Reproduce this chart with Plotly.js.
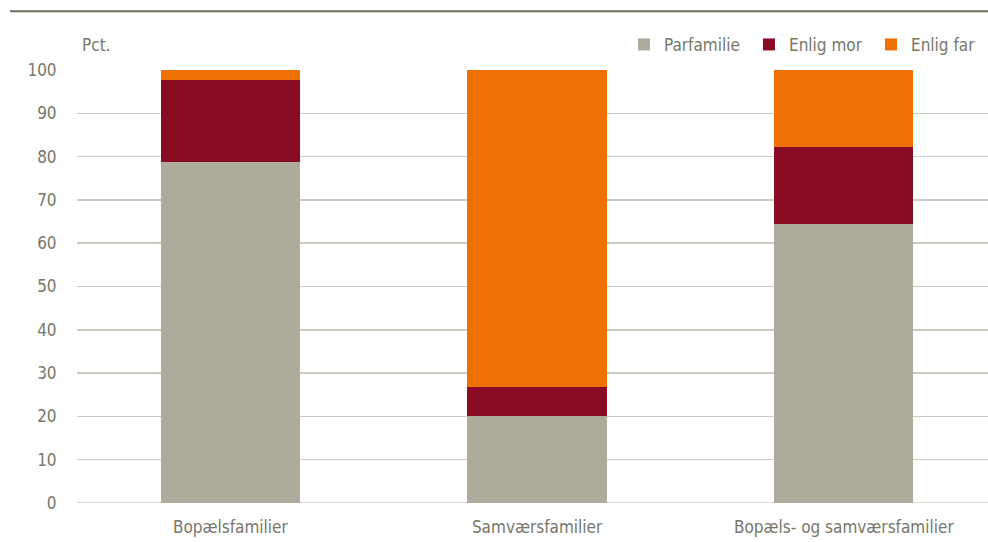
<!DOCTYPE html>
<html>
<head>
<meta charset="utf-8">
<script src="https://cdn.plot.ly/plotly-3.0.1.min.js"></script>
<style>html,body{margin:0;padding:0;background:#fff;}#chart{width:988px;height:542px;}</style>
</head>
<body>
<div id="chart"></div>
<script>
const categories = ["Bopælsfamilier", "Samværsfamilier", "Bopæls- og samværsfamilier"];
const parfamilie = [78.8, 20.0, 64.5];
const enligMor = [18.9, 6.9, 17.7];
const enligFar = [2.3, 73.1, 17.8];
const seriesNames = ["Parfamilie", "Enlig mor", "Enlig far"];
const seriesColors = ["#ADAB9C", "#8A0C24", "#EE7203"];
const yTicks = [0, 10, 20, 30, 40, 50, 60, 70, 80, 90, 100];

const FONT = "'Liberation Sans Narrow', 'Arial Narrow', 'DejaVu Sans Condensed', sans-serif";
const TXT = "#76766A";
const FS = 17;
const legendWidths = [80, 77, 66];

const data = [parfamilie, enligMor, enligFar].map((vals, i) => ({
  type: "bar",
  x: categories,
  y: vals,
  name: seriesNames[i],
  marker: {color: seriesColors[i], line: {width: 0}},
  width: 0.454,
  legendwidth: legendWidths[i],
  hoverinfo: "skip"
}));

const layout = {
  width: 988, height: 542,
  margin: {l: 77, r: 0, t: 70, b: 39, pad: 0},
  paper_bgcolor: "#fff", plot_bgcolor: "#fff",
  barmode: "stack",
  font: {family: FONT, size: FS, color: TXT},
  xaxis: {
    type: "category",
    range: [-0.5, 2.47],
    showgrid: false, zeroline: false, showline: false,
    ticks: "outside", ticklen: 9, tickcolor: "rgba(0,0,0,0)",
    tickfont: {family: FONT, size: FS, color: TXT}
  },
  yaxis: {
    range: [0, 100],
    tickvals: yTicks,
    ticktext: yTicks.map(String),
    showgrid: true, gridcolor: "#CBCBC0", gridwidth: 1.5,
    zeroline: false, showline: false,
    ticks: "outside", ticklen: 16, tickcolor: "rgba(0,0,0,0)",
    tickfont: {family: FONT, size: FS, color: TXT}
  },
  showlegend: true,
  legend: {
    orientation: "h",
    x: 0.6004, xanchor: "left",
    y: 1.058, yanchor: "middle",
    font: {family: FONT, size: FS, color: TXT},
    itemwidth: 30,
    traceorder: "normal",
    bgcolor: "rgba(0,0,0,0)"
  },
  annotations: [{
    text: "Pct.", xref: "paper", yref: "paper",
    x: 0.003, y: 1.058, xanchor: "left", yanchor: "middle",
    showarrow: false, font: {family: FONT, size: FS, color: TXT}
  }],
  shapes: [
    {type: "line", xref: "paper", yref: "paper",
     x0: -0.0735, x1: 1.0, y0: 1.1358, y1: 1.1358,
     line: {color: "#6E6D5E", width: 2}},
    {type: "line", xref: "paper", yref: "y",
     x0: 0, x1: 1, y0: 0, y1: 0, layer: "below",
     line: {color: "#CBCBC0", width: 1.5}}
  ]
};

Plotly.newPlot("chart", data, layout, {displayModeBar: false, staticPlot: true});
</script>
</body>
</html>
